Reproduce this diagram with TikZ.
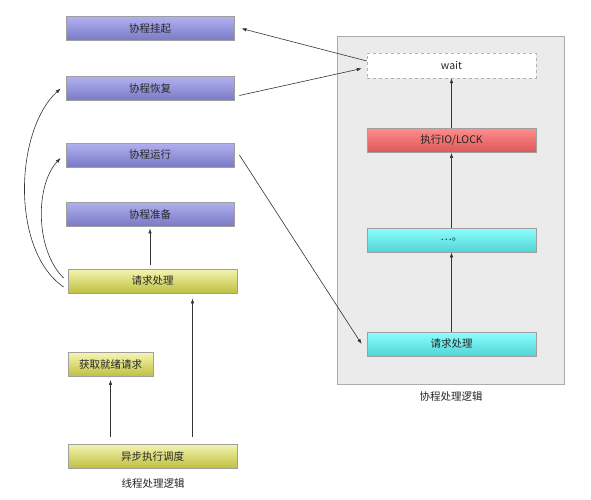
\documentclass[tikz,border=0pt]{standalone}
\usepackage{fontspec}
\setmainfont{Noto Sans CJK SC}
\usetikzlibrary{arrows.meta}
\begin{document}
\begin{tikzpicture}[x=1pt,y=-1pt,
  every node/.style={font=\fontsize{10.5}{12}\selectfont, text=black!85},
  box/.style={draw=gray!75, line width=0.8pt, minimum height=24pt, inner sep=0pt},
  purple/.style={box, top color=blue!28!white!88!gray, bottom color=blue!40!gray!75},
  yellowbox/.style={box, top color=yellow!28!white!92!gray, bottom color=olive!50!white},
  redbox/.style={box, top color=red!45!white, bottom color=red!65!gray!80},
  cyanbox/.style={box, top color=cyan!45!white, bottom color=cyan!60!gray!85},
  arr/.style={-{Latex[length=5pt,width=3.5pt]}, black!80, line width=0.6pt}]
\useasboundingbox (0,0) rectangle (591,500);
\fill[white] (0,0) rectangle (591,500);
% right panel
\node[draw=gray!65, fill=gray!16, line width=0.8pt, minimum width=227pt, minimum height=348pt, inner sep=0pt] (panel) at (450.5,210) {};
\node (plabel) at (451,397) {协程处理逻辑};
% right boxes
\node[draw=gray!60, dashed, fill=white, minimum width=169pt, minimum height=25pt, inner sep=0pt] (wait) at (451.5,65.5) {wait};
\node[redbox, minimum width=169pt] (io) at (451.5,140.5) {执行IO/LOCK};
\node[cyanbox, minimum width=169pt] (dots) at (451.5,240) {…。};
\node[cyanbox, minimum width=169pt] (creq) at (451.5,344) {请求处理};
% left boxes
\node[purple, minimum width=168pt] (hang) at (150,28.5) {协程挂起};
\node[purple, minimum width=168pt] (resume) at (150,88.5) {协程恢复};
\node[purple, minimum width=168pt] (run) at (150,155) {协程运行};
\node[purple, minimum width=168pt] (prep) at (150,214) {协程准备};
\node[yellowbox, minimum width=169pt] (req) at (152.5,281) {请求处理};
\node[yellowbox, minimum width=85pt] (get) at (110.5,364.5) {获取就绪请求};
\node[yellowbox, minimum width=169pt] (async) at (152.5,456) {异步执行调度};
\node (tlabel) at (153,483) {线程处理逻辑};
% arrows
\draw[arr] (wait.west |- 0,61) -- ([xshift=7pt]hang.east);
\draw[arr] ([xshift=5pt,yshift=-7pt]resume.east) -- ([xshift=-5pt,yshift=-3pt]wait.west);
\draw[arr] ([xshift=5pt,yshift=0pt]run.east) -- ([xshift=-5pt]creq.west);
\draw[arr] (creq.north) -- (dots.south);
\draw[arr] (dots.north) -- (io.south);
\draw[arr] (io.north) -- (wait.south);
\draw[arr] ([yshift=4pt]req.north -| prep.south) -- ([yshift=-2pt]prep.south);
\draw[arr] ([yshift=7pt]get.south |- async.north) -- ([yshift=-3pt]get.south);
\draw[arr] ([xshift=40pt,yshift=7pt]async.north) -- ([xshift=40pt,yshift=-5pt]req.south);
\draw[arr] ([xshift=-4pt,yshift=-6pt]req.west) .. controls (10,250) and (15,130) .. ([xshift=-5pt,yshift=0pt]resume.west);
\draw[arr] ([xshift=-4pt,yshift=3pt]req.west) .. controls (35,250) and (35,185) .. ([xshift=-5pt,yshift=-3pt]run.west);
\end{tikzpicture}
\end{document}
